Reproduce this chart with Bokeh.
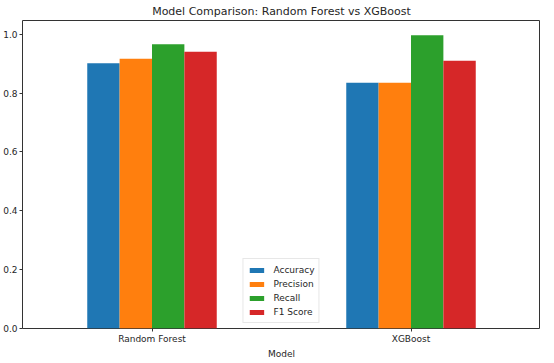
from bokeh.plotting import figure
from bokeh.models import FixedTicker, Range1d, Legend, LegendItem, ColumnDataSource, Title
from bokeh.embed import file_html
from bokeh.resources import INLINE

models = ["Random Forest", "XGBoost"]
metrics = ["Accuracy", "Precision", "Recall", "F1 Score"]
accuracy = [0.902, 0.835]
precision = [0.917, 0.835]
recall = [0.966, 0.997]
f1_score = [0.941, 0.910]
series = [accuracy, precision, recall, f1_score]
colors = ["#1f77b4", "#ff7f0e", "#2ca02c", "#d62728"]
y_ticks = [0.0, 0.2, 0.4, 0.6, 0.8, 1.0]
y_tick_labels = ["0.0", "0.2", "0.4", "0.6", "0.8", "1.0"]
x_label = "Model"

FONT = "DejaVu Sans"
TXT = "#262626"

p = figure(frame_width=518, frame_height=308, output_backend="svg", toolbar_location=None,
           x_range=Range1d(-0.5, 1.5), y_range=Range1d(0, 1.047),
           min_border_left=0, min_border_right=0, min_border_top=0, min_border_bottom=0,
           title="Model Comparison: Random Forest vs XGBoost")

p.title.align = "center"
p.title.text_font = FONT
p.title.text_font_size = "11px"
p.title.text_font_style = "normal"
p.title.text_color = TXT
p.title.offset = 0
p.title.standoff = 5

p.xgrid.visible = False
p.ygrid.visible = False
p.outline_line_color = "#333333"
p.outline_line_width = 1
p.background_fill_color = "white"
p.border_fill_color = "white"

n = len(metrics)
w = 0.5 / n
items = []
for j, (name, vals, col) in enumerate(zip(metrics, series, colors)):
    xs = [i + (j - (n - 1) / 2) * w for i in range(len(models))]
    src = ColumnDataSource(dict(x=xs, top=vals))
    r = p.vbar(x="x", top="top", width=w, bottom=0, source=src,
               fill_color=col, line_color=None)
    items.append(LegendItem(label=name, renderers=[r]))

legend = Legend(items=items, location="bottom_center", orientation="vertical",
                label_text_font=FONT, label_text_font_size="9px", label_text_color=TXT,
                glyph_width=18, glyph_height=6, label_height=13, spacing=1,
                padding=4, margin=5, label_standoff=8,
                border_line_color="#d0d0d0", border_line_width=1,
                background_fill_alpha=0.85)
p.add_layout(legend, "center")

p.xaxis.ticker = FixedTicker(ticks=list(range(len(models))))
p.xaxis.major_label_overrides = {i: m for i, m in enumerate(models)}
p.yaxis.ticker = FixedTicker(ticks=y_ticks)
p.yaxis.major_label_overrides = {t: l for t, l in zip(y_ticks, y_tick_labels)}

for ax in (p.xaxis[0], p.yaxis[0]):
    ax.axis_line_color = None
    ax.major_tick_line_color = "#333333"
    ax.major_tick_out = 3
    ax.major_tick_in = 0
    ax.minor_tick_line_color = None
    ax.major_label_text_font = FONT
    ax.major_label_text_font_size = "9px"
    ax.major_label_text_color = TXT
    ax.major_label_standoff = 2

p.add_layout(Title(text=x_label, align="center", text_font=FONT, text_font_size="9px",
                   text_font_style="normal", text_color=TXT, standoff=0, offset=0),
             "below")

open("out.html", "w").write(file_html(p, INLINE))
